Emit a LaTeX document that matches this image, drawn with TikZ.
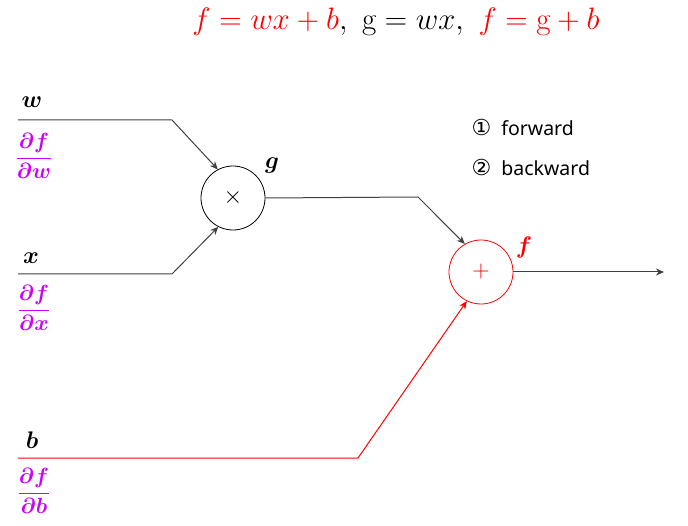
\RequirePackage{fix-cm}
\documentclass[tikz,border=0pt]{standalone}
\usepackage{amsmath}
\usepackage{bm}
\usepackage{fontspec}
\newfontfamily\uifont{Noto Sans}
\newfontfamily\symfont{DejaVu Sans}
\usetikzlibrary{arrows.meta}
\definecolor{lne}{RGB}{64,64,64}
\definecolor{mag}{RGB}{204,0,255}
\definecolor{rd}{RGB}{255,0,0}
\tikzset{
  wire/.style={draw=lne, line width=1pt},
  arr/.style={wire, -{Stealth[length=8pt,width=7pt]}},
  rwire/.style={draw=rd, line width=1pt},
  rarr/.style={rwire, -{Stealth[length=8pt,width=7pt]}},
  opnode/.style={circle, draw, line width=0.8pt, minimum size=64pt, inner sep=0pt, font=\fontsize{24}{26}\selectfont},
  vlab/.style={font=\fontsize{24}{26}\selectfont},
  dlab/.style={text=mag, font=\fontsize{22}{24}\selectfont},
  legend/.style={anchor=west, font=\uifont\fontsize{19.5}{22}\selectfont}
}
\begin{document}
\begin{tikzpicture}[x=1pt,y=-1pt]
\useasboundingbox (0,0) rectangle (688,526);
% title
\node (title) at (396,22) {\fontsize{31}{34}\selectfont $\color{rd}f=wx+b\color{black},\ \mathrm{g}=wx,\ \color{rd}f=\mathrm{g}+b$};
% op nodes
\node[opnode] (mul) at (233,198) {$\times$};
\node[opnode, draw=rd, text=rd] (add) at (481,272) {$+$};
% inputs
\coordinate (w0) at (18,120);
\coordinate (w1) at (172,120);
\coordinate (x0) at (18,274);
\coordinate (x1) at (172,274);
\coordinate (b0) at (18,458);
\coordinate (b1) at (358,458);
\coordinate (g1) at (418,197);
\coordinate (out) at (664,272);
\draw[arr] (w0) -- (w1) -- (mul.118);
\draw[arr] (x0) -- (x1) -- (mul.243);
\draw[arr] (mul.east) -- (g1) -- (add.120);
\draw[rarr] (b0) -- (b1) -- (add.244);
\draw[arr] (add.east) -- (out);
% labels
\node[vlab] (wl) at (32,102) {$\bm{w}$};
\node[vlab] (xl) at (31,258) {$\bm{x}$};
\node[vlab] (bl) at (32,440) {$\bm{b}$};
\node[vlab] (gl) at (272,166) {$\bm{g}$};
\node[vlab, text=rd] (fl) at (524,248) {$\bm{f}$};
\node[dlab] (dw) at (34,156) {$\displaystyle\frac{\bm{\partial f}}{\bm{\partial w}}$};
\node[dlab] (dx) at (34,308) {$\displaystyle\frac{\bm{\partial f}}{\bm{\partial x}}$};
\node[dlab] (db) at (34,491) {$\displaystyle\frac{\bm{\partial f}}{\bm{\partial b}}$};
% legend
\node[legend] (l1) at (468,127) {{\symfont\fontsize{22}{24}\selectfont ①}\ \ forward};
\node[legend] (l2) at (468,167) {{\symfont\fontsize{22}{24}\selectfont ②}\ \ backward};
\end{tikzpicture}
\end{document}
